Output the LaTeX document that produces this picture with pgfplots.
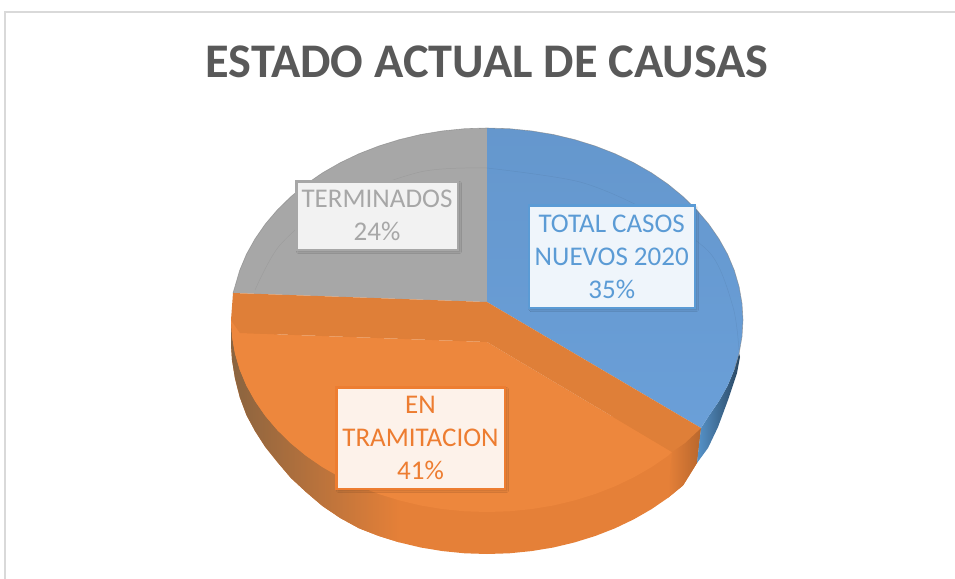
\documentclass[border=0pt]{standalone}
\usepackage{pgfplots}
\pgfplotsset{compat=1.18}
\usepackage{fontspec}
\setmainfont{Carlito}
\usetikzlibrary{shadows.blur}
\definecolor{cblue}{HTML}{6A9FD8}
\definecolor{ctext}{HTML}{5B9BD5}
\definecolor{cgray}{HTML}{A7A7A7}
\definecolor{corange}{HTML}{ED873D}
\definecolor{cotext}{HTML}{ED7D31}
\definecolor{cband}{HTML}{DF7F38}
\definecolor{cside}{HTML}{E58038}
\definecolor{cbrown}{HTML}{8A6440}
\pgfplotstableread{
x y
487 302
487 128
509.3 128.7
531.4 130.9
553.3 134.5
574.6 139.6
595.2 146
615 153.7
633.8 162.7
651.6 172.9
668 184.2
683.1 196.6
696.7 209.9
708.7 224
719 238.9
727.6 254.3
734.3 270.3
739.1 286.7
742 303.3
743 320
742 336.7
739.1 353.3
734.3 369.7
727.6 385.7
719 401.1
708.7 416
701 428
}\blueslice
\pgfplotstableread{
x y
487 302
233 293
234.9 286.7
239.7 270.3
246.4 254.3
255 238.9
265.3 224
277.3 209.9
290.9 196.6
306 184.2
322.4 172.9
340.2 162.7
359 153.7
378.8 146
399.4 139.6
420.7 134.5
442.6 130.9
464.7 128.7
487 128
}\grayslice
\pgfplotstableread{
x y
233 293
234.9 286.7
239.7 270.3
246.4 254.3
255 238.9
265.3 224
277.3 209.9
290.9 196.6
306 184.2
322.4 172.9
340.2 162.7
359 153.7
378.8 146
399.4 139.6
420.7 134.5
442.6 130.9
464.7 128.7
487 128
509.3 128.7
531.4 130.9
553.3 134.5
574.6 139.6
595.2 146
615 153.7
633.8 162.7
651.6 172.9
668 184.2
683.1 196.6
696.7 209.9
708.7 224
719 238.9
727.6 254.3
734.3 270.3
739.1 286.7
742 303.3
743 320
742 336.7
739.1 353.3
734.3 369.7
}\rim
\pgfplotstableread{
x y
487 342
672 452
668 455.8
651.6 467.1
633.8 477.3
615 486.3
595.2 494
574.6 500.4
553.3 505.5
531.4 509.1
509.3 511.3
487 512
464.7 511.3
442.6 509.1
420.7 505.5
399.4 500.4
378.8 494
359 486.3
340.2 477.3
322.4 467.1
306 455.8
290.9 443.4
277.3 430.1
265.3 416
255 401.1
246.4 385.7
239.7 369.7
234.9 353.3
232 336.7
231 320
240 333
}\orangetop
\pgfplotstableread{
x y
233 293
487 302
701 428
685 443
672 452
487 342
240 333
231 320
}\orangeband
\pgfplotstableread{
x y
701 428
697 463
683.1 485.4
668 497.8
651.6 509.1
633.8 519.3
615 528.3
595.2 536
574.6 542.4
553.3 547.5
531.4 551.1
509.3 553.3
487 554
464.7 553.3
442.6 551.1
420.7 547.5
399.4 542.4
378.8 536
359 528.3
340.2 518
322.4 506
306 492
290.9 478
277.3 462
265.3 447
255 431
246.4 415
239.7 397
234.9 378
232 360
231 345
231 320
487 400
}\orangeside
\pgfplotstableread{
x y
231 320
231 345
232 360
234.9 378
239.7 397
246.4 415
255 431
265.3 447
277.3 462
290.9 478
306 492
322.4 506
340.2 518
359 528.3
378.8 536
399.4 542.4
399.4 500.4
378.8 494
359 486.3
340.2 477.3
322.4 467.1
306 455.8
290.9 443.4
277.3 430.1
265.3 416
255 401.1
246.4 385.7
239.7 369.7
234.9 353.3
232 336.7
}\orangeleft
\pgfplotstableread{
x y
701 428
697 463
683.1 485.4
668 497.8
672 452
}\orangecorner
\pgfplotstableread{
x y
701 428
708.7 416
719 401.1
727.6 385.7
734.3 369.7
739.1 353.3
740 357
737 373
728 400
718 427
708 448
697 463
}\bluewall
\begin{document}
\begin{tikzpicture}
\begin{axis}[
  scale only axis, width=955bp, height=579bp,
  xmin=0, xmax=955, ymin=0, ymax=579, y dir=reverse,
  hide axis, clip=true,
]
\path (axis cs:0,0) rectangle (axis cs:955,579);
% frame
\addplot[draw=black!15, line width=2bp] coordinates {(4.5,579) (4.5,12.5) (955,12.5)};
% walls
\addplot[draw=none, fill=cside] table {\orangeside};
\addplot[draw=none, left color=cbrown, right color=cside] table {\orangeleft};
\addplot[draw=none, left color=cside, right color=cside!80!black] table {\orangecorner};
\addplot[draw=none, left color=ctext!95!black, middle color=ctext!80!black, right color=ctext!45!black] table {\bluewall};
% top faces
\addplot[draw=none, fill=cgray] table {\grayslice};
\addplot[draw=none, top color=cblue!95!black, bottom color=cblue] table {\blueslice};
\addplot[draw=none, fill=corange] table {\orangetop};
\addplot[draw=none, fill=cband] table {\orangeband};
% rim and faint inner bevel
\addplot[draw=gray, line width=0.6pt, opacity=.6] table {\rim};
\addplot[draw=black, line width=0.5pt, opacity=.06, smooth] coordinates {(487,168) (580,182) (650,212) (710,253) (733,307) (739,350)};
\addplot[draw=black, line width=0.5pt, opacity=.06, smooth] coordinates {(487,168) (420,172) (330,205) (280,245) (255,290)};
% labels
\tikzset{lab/.style={align=center, font=\fontsize{27bp}{33bp}\selectfont, inner sep=0pt, line width=2.5bp,
  blur shadow={shadow xshift=2bp, shadow yshift=-2bp, shadow blur steps=6, shadow opacity=20}}}
\node[lab, draw=ctext, fill=ctext!10!white, text=ctext, minimum width=166bp, minimum height=102.5bp] at (axis cs:611.75,256.5)
  {TOTAL CASOS\\NUEVOS 2020\\35\%};
\node[lab, draw=cotext, fill=cotext!10!white, text=cotext, minimum width=168.5bp, minimum height=101.5bp] at (axis cs:420.5,438)
  {EN\\TRAMITACION\\41\%};
\node[lab, draw=cgray, fill=black!5, text=cgray, minimum width=161.5bp, minimum height=68.5bp] at (axis cs:377,215.5)
  {TERMINADOS\\24\%};
\node[text=black!65, font=\fontsize{48.3bp}{58bp}\selectfont\bfseries, inner sep=0pt] at (axis cs:487,62) {ESTADO ACTUAL DE CAUSAS};
\end{axis}
\end{tikzpicture}
\end{document}
